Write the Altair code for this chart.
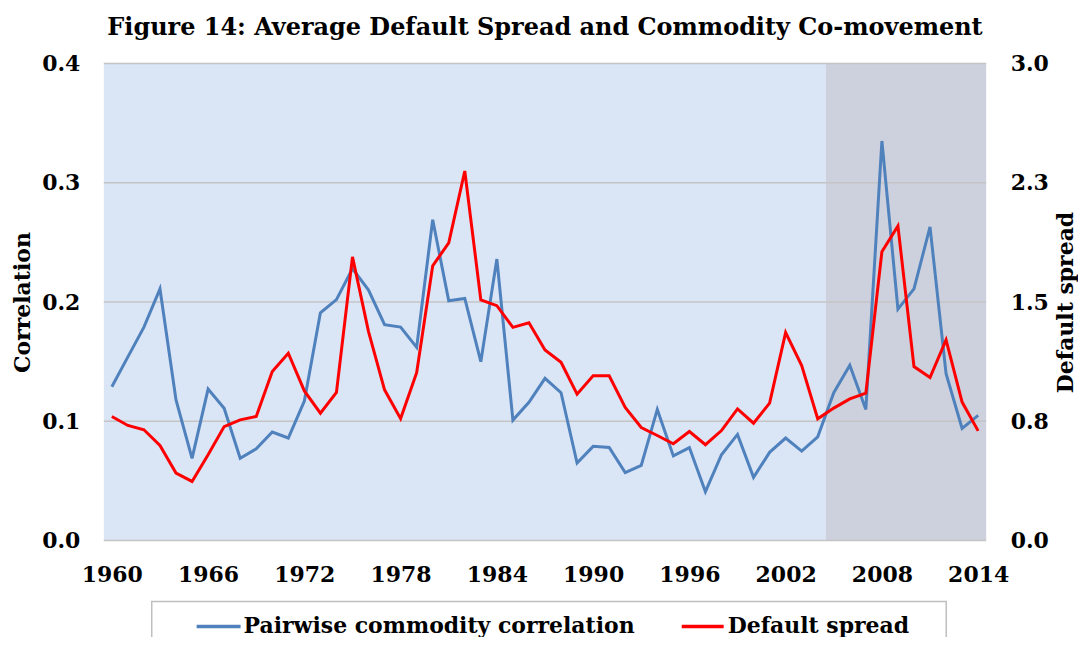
import altair as alt
import pandas as pd

years = list(range(1960, 2015))
correlation = [0.129, 0.154, 0.179, 0.211, 0.118, 0.069, 0.127, 0.111, 0.069, 0.077,
               0.091, 0.086, 0.117, 0.191, 0.202, 0.228, 0.210, 0.181, 0.179,
               0.162, 0.269, 0.201, 0.203, 0.150, 0.236, 0.101, 0.116, 0.136, 0.124,
               0.065, 0.079, 0.078, 0.057, 0.063, 0.110, 0.071,
               0.078, 0.041, 0.072, 0.089, 0.053, 0.074, 0.086, 0.075, 0.087, 0.124,
               0.147, 0.110, 0.335, 0.194, 0.211, 0.263, 0.140, 0.094, 0.105]
default_spread = [0.780, 0.724, 0.697, 0.598, 0.425, 0.372, 0.540, 0.717, 0.759, 0.780,
                  1.063, 1.178, 0.941, 0.801, 0.931, 1.784, 1.314, 0.948, 0.767,
                  1.056, 1.728, 1.872, 2.324, 1.513, 1.477, 1.341, 1.370, 1.199, 1.121,
                  0.921, 1.036, 1.036, 0.837, 0.711, 0.661, 0.609,
                  0.686, 0.603, 0.692, 0.828, 0.738, 0.864, 1.308, 1.100, 0.766, 0.833,
                  0.891, 0.927, 1.816, 1.979, 1.094, 1.025, 1.262, 0.871, 0.690]

x_ticks = [1960, 1966, 1972, 1978, 1984, 1990, 1996, 2002, 2008, 2014]
corr_ticks = [0.0, 0.1, 0.2, 0.3, 0.4]
spread_ticks = [0.0, 0.75, 1.5, 2.25, 3.0]

period_start = [1959.5, 2004.5]
period_end = [2004.5, 2014.5]
period_name = ["before", "after"]
period_color = ["#DAE5F6", "#CDD1DD"]

FONT = "DejaVu Serif"
W, H = 884, 478

df = pd.DataFrame({"year": years, "corr": correlation, "spread": default_spread})
bg_df = pd.DataFrame({"start": period_start, "end": period_end, "name": period_name})
grid_df = pd.DataFrame({"g": corr_ticks})
one = pd.DataFrame({"k": [0]})

xscale = alt.Scale(domain=[1959.5, 2014.5], nice=False, zero=False)
xaxis = alt.Axis(values=x_ticks, format="d", title=None, grid=False, domain=False,
                 ticks=False, labelFont=FONT, labelFontSize=22, labelFontWeight="bold",
                 labelColor="black", labelPadding=24, labelFlush=False)

bg = alt.Chart(bg_df).mark_rect().encode(
    x=alt.X("start:Q", scale=xscale, axis=xaxis),
    x2="end:Q",
    y=alt.value(0),
    y2=alt.value(H),
    color=alt.Color("name:N", scale=alt.Scale(domain=period_name, range=period_color), legend=None),
)

grid = alt.Chart(grid_df).mark_rule(color="#C4C4C4", strokeWidth=1.5).encode(
    y=alt.Y("g:Q", scale=alt.Scale(domain=[0, 0.4], nice=False), axis=None),
)

blue = alt.Chart(df).mark_line(color="#4F81BD", strokeWidth=3).encode(
    x=alt.X("year:Q", scale=xscale, axis=xaxis),
    y=alt.Y("corr:Q", scale=alt.Scale(domain=[0, 0.4], nice=False),
            axis=alt.Axis(orient="left", values=corr_ticks, format=".1f", title="Correlation",
                          grid=False, domain=False, ticks=False, labelFont=FONT,
                          labelFontSize=22, labelFontWeight="bold", labelColor="black",
                          labelPadding=24, titleFont=FONT, titleFontSize=22,
                          titleFontWeight="bold", titleColor="black", titlePadding=7)),
)

red = alt.Chart(df).mark_line(color="#FF0000", strokeWidth=3).encode(
    x=alt.X("year:Q", scale=xscale, axis=xaxis),
    y=alt.Y("spread:Q", scale=alt.Scale(domain=[0, 3.0], nice=False),
            axis=alt.Axis(orient="right", values=spread_ticks, format=".1f",
                          title="Default spread", grid=False, domain=False, ticks=False,
                          labelFont=FONT, labelFontSize=22, labelFontWeight="bold",
                          labelColor="black", labelPadding=24, titleFont=FONT,
                          titleFontSize=22, titleFontWeight="bold", titleColor="black",
                          titlePadding=7, titleAngle=270, titleBaseline="top")),
)

legend_box = alt.Chart(one).mark_rect(fill="white", stroke="#BFBFBF", strokeWidth=1.5).encode(
    x=alt.value(48), x2=alt.value(844), y=alt.value(539), y2=alt.value(640))
leg_blue = alt.Chart(one).mark_rule(color="#4F81BD", strokeWidth=3.5).encode(
    x=alt.value(93), x2=alt.value(137), y=alt.value(564))
leg_blue_t = alt.Chart(one).mark_text(align="left", baseline="middle", font=FONT, fontSize=22,
                                      fontWeight="bold", color="black").encode(
    x=alt.value(140), y=alt.value(564), text=alt.value("Pairwise commodity correlation"))
leg_red = alt.Chart(one).mark_rule(color="#FF0000", strokeWidth=3.5).encode(
    x=alt.value(579), x2=alt.value(621), y=alt.value(564))
leg_red_t = alt.Chart(one).mark_text(align="left", baseline="middle", font=FONT, fontSize=22,
                                     fontWeight="bold", color="black").encode(
    x=alt.value(625), y=alt.value(564), text=alt.value("Default spread"))

chart = alt.layer(bg, grid, blue, red, legend_box, leg_blue, leg_blue_t, leg_red, leg_red_t).resolve_scale(
    y="independent", color="independent"
).properties(
    width=W, height=H,
    title=alt.TitleParams("Figure 14: Average Default Spread and Commodity Co-movement",
                          font=FONT, fontSize=24, fontWeight="bold", color="black",
                          anchor="middle", offset=13),
    autosize=alt.AutoSizeParams(type="none"),
    padding={"left": 96, "top": 55, "right": 92, "bottom": 96},
).configure_view(stroke=None)

chart.save("out.html", embed_options={"renderer": "svg", "actions": False})
